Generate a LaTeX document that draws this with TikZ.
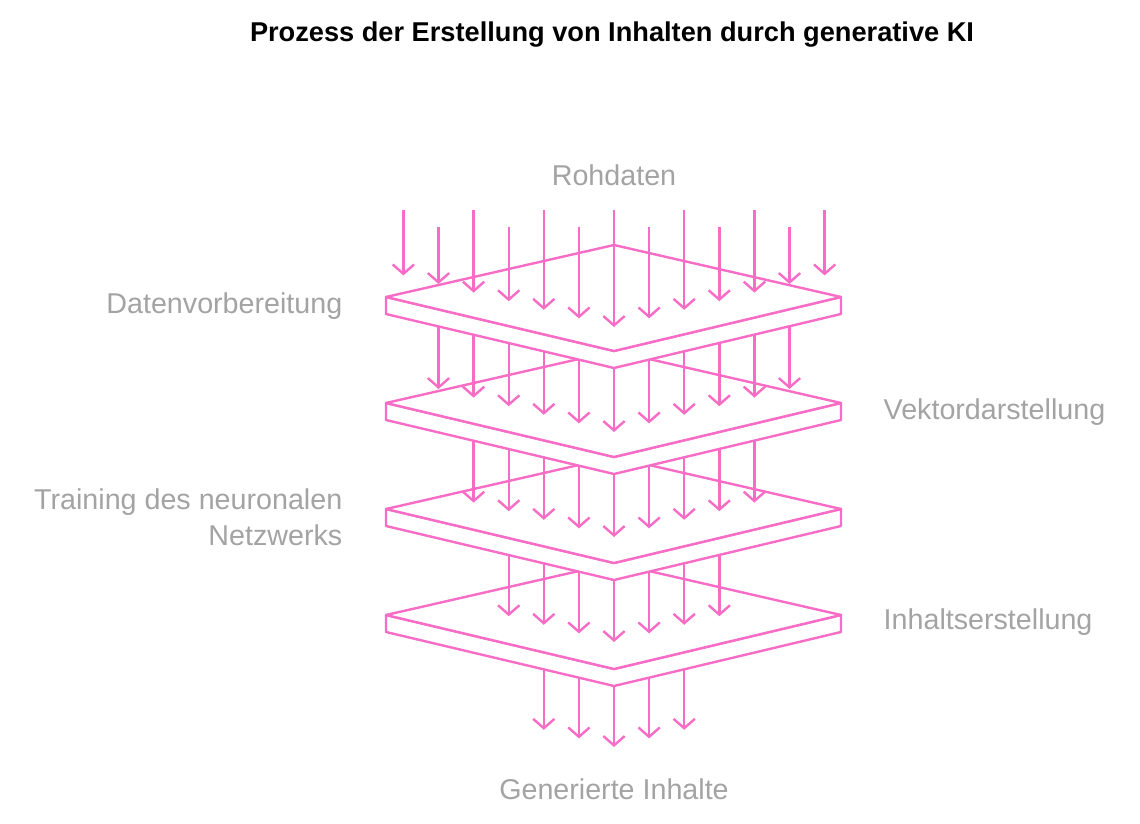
\documentclass[tikz,border=0pt]{standalone}
\usepackage{fontspec}
\setsansfont{Liberation Sans}
\usetikzlibrary{arrows.meta}
\definecolor{pinkline}{HTML}{F76DC6}
\definecolor{greytext}{HTML}{A3A3A3}
\tikzset{
  plate/.style={draw=pinkline, line width=1.8pt, fill=white, line join=round},
  flow/.style={draw=pinkline, line width=1.8pt, -{Straight Barb[length=7pt,width=16pt]}},
  lbl/.style={text=greytext, font=\sffamily\fontsize{21.5}{27}\selectfont},
}
\newcommand\layerplate[1]{%
  \pgfmathsetmacro\dy{106*#1}
  \draw[plate] (386,297+\dy) -- (386,314+\dy) -- (614,368+\dy) -- (841,314+\dy)
    -- (841,297+\dy) -- (614,351+\dy) -- cycle;
  \draw[plate] (386,297+\dy) -- (614,245+\dy) -- (841,297+\dy) -- (614,351+\dy) -- cycle;
}
\newcommand\arrowrow[1]{%
  \pgfmathtruncatemacro\nk{6-#1}
  \foreach \k in {-\nk,...,\nk}{
    \pgfmathsetmacro\ax{614+35.1*\k}
    \pgfmathsetmacro\ay{327+105*#1-8.6*abs(\k)}
    \ifnum#1=0
      \pgfmathsetmacro\sy{ifthenelse(mod(abs(\k),2)==0,210,227)}
    \else
      \pgfmathsetmacro\sy{368+106*(#1-1)-53*abs(\k)*35.1/228}
    \fi
    \coordinate (s-#1-\k) at (\ax,\sy);
    \coordinate (e-#1-\k) at (\ax,\ay);
    \draw[flow] (s-#1-\k) -- (e-#1-\k);
  }
}
\begin{document}
\begin{tikzpicture}[x=0.75pt,y=-0.75pt]
  \useasboundingbox (0,0) rectangle (1140,824);
  % title
  \node[font=\sffamily\bfseries\fontsize{20.4}{24}\selectfont] (title) at (612,35)
    {Prozess der Erstellung von Inhalten durch generative KI};
  % layers, bottom to top
  \arrowrow{4}
  \foreach \i in {3,2,1,0}{
    \layerplate{\i}
    \arrowrow{\i}
  }
  % labels
  \node[lbl] (raw) at (614,175) {Rohdaten};
  \node[lbl, anchor=east] (prep) at (347,306) {Datenvorbereitung};
  \node[lbl, anchor=west] (vec) at (879,412) {Vektordarstellung};
  \node[lbl, anchor=east, align=right] (train) at (347,517)
    {Training des neuronalen\\Netzwerks};
  \node[lbl, anchor=west] (gen) at (879,622) {Inhaltserstellung};
  \node[lbl] (out) at (614,789) {Generierte Inhalte};
\end{tikzpicture}
\end{document}
